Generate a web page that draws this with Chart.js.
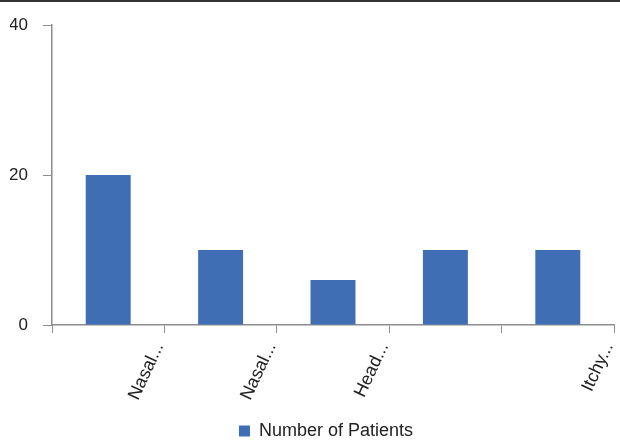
<!DOCTYPE html>
<html>
<head>
<meta charset="utf-8">
<script src="https://cdn.jsdelivr.net/npm/chart.js@4/dist/chart.umd.min.js"></script>
<style>
  html, body { margin: 0; padding: 0; background: #fff; }
  body { width: 620px; height: 442px; overflow: hidden; position: relative; }
  #topline { position: absolute; left: 0; top: 0; width: 620px; height: 2px; background: #333; }
  #wrap { position: absolute; left: 0; top: 0; width: 620px; height: 442px; }
</style>
</head>
<body>
<div id="wrap"><canvas id="c" width="620" height="442"></canvas></div>
<div id="topline"></div>
<script>
const categories = ["Nasal...", "Nasal...", "Head...", "", "Itchy..."];
const patientCounts = [20, 10, 6, 10, 10];
const yTicks = [0, 20, 40];
const seriesName = "Number of Patients";

const axisColor = "#8c8c8c";
const fontFamily = "'Liberation Sans', Arial, Helvetica, sans-serif";

const legendShift = {
  id: "legendShift",
  afterLayout(chart) {
    if (chart.legend) {
      chart.legend.left += 14;
      chart.legend.right += 14;
    }
  }
};

new Chart(document.getElementById("c"), {
  type: "bar",
  data: {
    labels: categories,
    datasets: [{
      label: seriesName,
      data: patientCounts,
      backgroundColor: "#3f6eb4",
      borderWidth: 0,
      barPercentage: 0.4,
      categoryPercentage: 1.0
    }]
  },
  plugins: [legendShift],
  options: {
    responsive: false,
    animation: false,
    devicePixelRatio: 1,
    layout: { padding: { left: 10, right: 6, top: 16, bottom: -8 } },
    plugins: {
      legend: {
        position: "bottom",
        labels: {
          color: "#222",
          font: { family: fontFamily, size: 18 },
          boxWidth: 11,
          boxHeight: 11,
          padding: 6
        }
      },
      tooltip: { enabled: false }
    },
    scales: {
      x: {
        afterFit: (scale) => { scale.height = 91; },
        grid: {
          display: true,
          drawOnChartArea: false,
          drawTicks: true,
          tickLength: 8,
          color: axisColor,
          offset: true
        },
        border: { display: true, color: axisColor, width: 1.5 },
        ticks: {
          color: "#222",
          font: { family: fontFamily, size: 18 },
          minRotation: 65,
          maxRotation: 65,
          autoSkip: false,
          labelOffset: 51,
          padding: 6
        }
      },
      y: {
        min: 0,
        max: 40,
        afterBuildTicks: (axis) => { axis.ticks = yTicks.map(v => ({ value: v })); },
        afterFit: (scale) => { scale.width = 42; },
        grid: {
          display: true,
          drawOnChartArea: false,
          drawTicks: true,
          tickLength: 9,
          color: axisColor
        },
        border: { display: true, color: axisColor, width: 1.5 },
        ticks: {
          color: "#222",
          font: { family: fontFamily, size: 17 },
          padding: 15
        }
      }
    }
  }
});
</script>
</body>
</html>
